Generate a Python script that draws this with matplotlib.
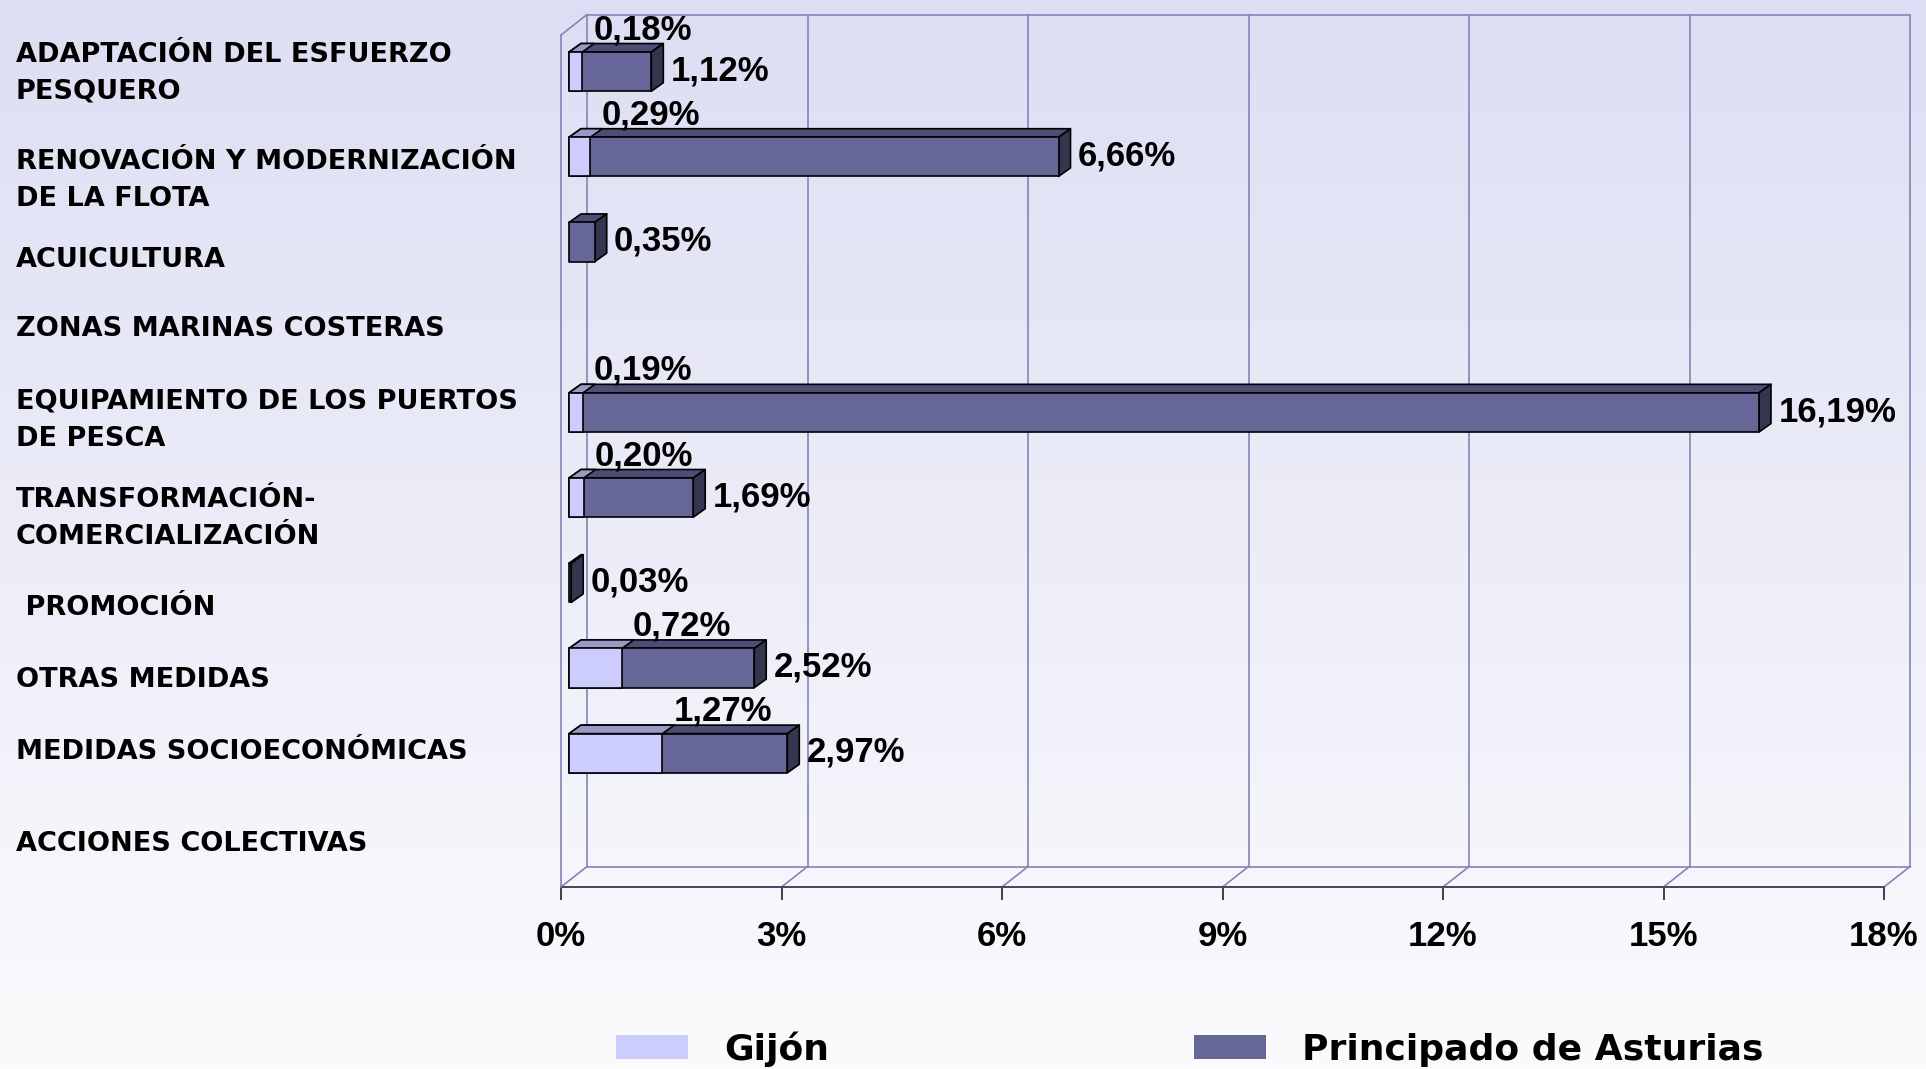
import numpy as np
import matplotlib
matplotlib.use("Agg")
import matplotlib.pyplot as plt
from matplotlib.patches import Polygon, Rectangle, Patch
import matplotlib.transforms as mtransforms

categories = [
    "ADAPTACIÓN DEL ESFUERZO\nPESQUERO",
    "RENOVACIÓN Y MODERNIZACIÓN\nDE LA FLOTA",
    "ACUICULTURA",
    "ZONAS MARINAS COSTERAS",
    "EQUIPAMIENTO DE LOS PUERTOS\nDE PESCA",
    "TRANSFORMACIÓN-\nCOMERCIALIZACIÓN",
    " PROMOCIÓN",
    "OTRAS MEDIDAS",
    "MEDIDAS SOCIOECONÓMICAS",
    "ACCIONES COLECTIVAS",
]
gijon = [0.18, 0.29, 0.0, 0.0, 0.19, 0.20, 0.0, 0.72, 1.27, 0.0]
asturias = [1.12, 6.66, 0.35, 0.0, 16.19, 1.69, 0.03, 2.52, 2.97, 0.0]
xticks = [0, 3, 6, 9, 12, 15, 18]
series_names = ["Gijón", "Principado de Asturias"]

# layout
label_nudge = [-0.05, 0.21, 0.14, -0.05, 0.02, 0.18, 0.22, 0.07, -0.08, 0.0]
wall_dx, wall_dy = 0.354, 0.24       # depth of the chart walls
bar_x0, bar_dy0 = 0.109, 0.07        # bars sit a bit inside the depth
bar_ddx, bar_ddy = 0.163, 0.10       # bar depth
bar_h = 0.46

c_gijon = "#ccccff"
c_gijon_top = "#9a9ac6"
c_ast = "#666699"
c_ast_top = "#4d4d75"
c_ast_side = "#35354f"
c_grid = "#8484b8"

label_font = "DejaVu Sans"
num_font = "Liberation Sans"

fig = plt.figure(figsize=(19.26, 10.69), dpi=100)

# background gradient
bg = fig.add_axes([0, 0, 1, 1], zorder=0)
top = np.array([221, 222, 243]) / 255
bottom = np.array([251, 251, 253]) / 255
t = np.linspace(0, 1, 256)[:, None]
grad = top[None, :] * (1 - t) + bottom[None, :] * t
bg.imshow(grad[:, None, :], aspect="auto", extent=[0, 1, 0, 1])
bg.axis("off")

ax = fig.add_axes([561 / 1926, 1 - 887 / 1069, 1323 / 1926, 852 / 1069], zorder=1)
ax.set_facecolor("none")
ax.set_xlim(0, 18)
ax.set_ylim(9.5, -0.5)
for s in ax.spines.values():
    s.set_visible(False)

y_lo, y_hi = -0.5, 9.5
# back wall
ax.plot([wall_dx, 18 + wall_dx], [y_lo - wall_dy] * 2, color=c_grid, lw=1.2, clip_on=False)
for x in xticks:
    ax.plot([x + wall_dx] * 2, [y_lo - wall_dy, y_hi - wall_dy], color=c_grid, lw=1.2, clip_on=False)
    ax.plot([x, x + wall_dx], [y_hi, y_hi - wall_dy], color=c_grid, lw=1.2, clip_on=False)
# floor
ax.plot([wall_dx, 18 + wall_dx], [y_hi - wall_dy] * 2, color=c_grid, lw=1.2, clip_on=False)
ax.plot([0, 18], [y_hi, y_hi], color="#44445e", lw=1.4, clip_on=False)
# left wall
ax.plot([0, 0], [y_lo, y_hi], color=c_grid, lw=1.2, clip_on=False)
ax.plot([0, wall_dx], [y_lo, y_lo - wall_dy], color=c_grid, lw=1.2, clip_on=False)


def bar3d(v, i, front, topc, sidec, side=True):
    yt = i - bar_dy0 - bar_h / 2
    yb = i - bar_dy0 + bar_h / 2
    x0 = bar_x0
    x1 = bar_x0 + v
    kw = dict(edgecolor="black", lw=1.2, joinstyle="round", zorder=3)
    ax.add_patch(Polygon([(x0, yt), (x1, yt), (x1 + bar_ddx, yt - bar_ddy), (x0 + bar_ddx, yt - bar_ddy)],
                         facecolor=topc, **kw))
    if side:
        ax.add_patch(Polygon([(x1, yt), (x1 + bar_ddx, yt - bar_ddy), (x1 + bar_ddx, yb - bar_ddy), (x1, yb)],
                             facecolor=sidec, **kw))
    ax.add_patch(Rectangle((x0, yt), v, bar_h, facecolor=front, **kw))


def fmt(v):
    return f"{v:.2f}".replace(".", ",") + "%"


for i in range(len(categories)):
    a, g = asturias[i], gijon[i]
    if a > 0:
        bar3d(a, i, c_ast, c_ast_top, c_ast_side)
        ax.text(bar_x0 + a + bar_ddx + 0.1, i - bar_dy0 - 0.01, fmt(a), ha="left", va="center",
                fontsize=25, fontweight="bold", family=num_font, zorder=4)
    if g > 0:
        bar3d(g, i, c_gijon, c_gijon_top, c_gijon, side=False)
        ax.text(bar_x0 + g + 0.15, i - bar_dy0 - bar_h / 2 - bar_ddy + 0.03, fmt(g), ha="left",
                va="bottom", fontsize=25, fontweight="bold", family=num_font, zorder=4)

# category labels
trans = mtransforms.blended_transform_factory(fig.transFigure, ax.transData)
for i, lab in enumerate(categories):
    ax.text(16 / 1926, i + label_nudge[i], lab, transform=trans, ha="left", va="center",
            fontsize=19.5, fontweight="bold", family=label_font, linespacing=1.55, clip_on=False)

ax.set_yticks([])
ax.set_xticks(xticks)
ax.set_xticklabels([f"{x}%" for x in xticks], fontsize=25, fontweight="bold", family=num_font)
ax.tick_params(axis="x", length=9.5, width=1.2, color="#222222", pad=14)

handles = [Patch(facecolor=c_gijon, edgecolor="none"), Patch(facecolor=c_ast, edgecolor="none")]
fig.legend(handles, series_names, loc="center left", bbox_to_anchor=(616 / 1926, 1 - 1049 / 1069),
           ncol=2, frameon=False, borderpad=0, borderaxespad=0, handlelength=2.0, handleheight=0.64,
           handletextpad=1.0, columnspacing=10.1,
           prop={"family": label_font, "weight": "bold", "size": 26})

fig.savefig("out.png", dpi=100)
